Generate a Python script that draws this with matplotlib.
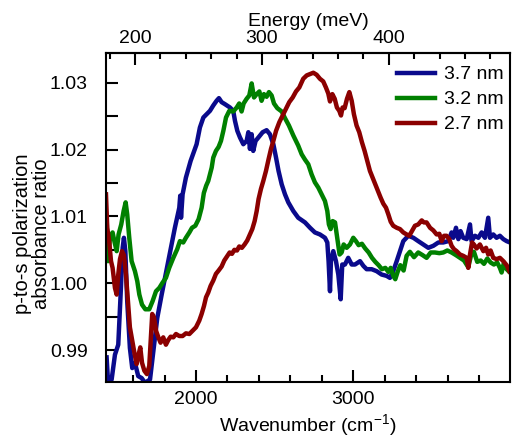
import matplotlib
matplotlib.use("Agg")
import matplotlib.pyplot as plt
from matplotlib.ticker import MultipleLocator, FixedLocator

plt.rcParams["font.family"] = ["Liberation Sans", "DejaVu Sans"]
plt.rcParams["mathtext.fontset"] = "custom"
plt.rcParams["mathtext.rm"] = "Liberation Sans"

MEV_TO_WN = 8.0655
FS = 14

# 3.7 nm
wn_37 = [1432, 1443, 1464, 1485, 1506, 1521, 1534, 1542, 1551, 1563, 1580, 1595, 1612, 1633, 1655,
         1676, 1708, 1729, 1754, 1782, 1824, 1866, 1894, 1900, 1905, 1915, 1936, 1966, 2004, 2025,
         2047, 2068, 2089, 2110, 2131, 2146, 2163, 2184, 2216, 2237, 2248, 2263, 2280, 2301, 2322,
         2333, 2343, 2354, 2364, 2379, 2400, 2424, 2449, 2470, 2492, 2509, 2525, 2545, 2566, 2587,
         2619, 2650, 2693, 2725, 2756, 2788, 2820, 2835, 2843, 2852, 2858, 2873, 2890, 2905, 2920,
         2930, 2947, 2968, 2990, 3011, 3043, 3064, 3085, 3117, 3149, 3180, 3212, 3233, 3254, 3276,
         3297, 3318, 3350, 3382, 3413, 3445, 3477, 3509, 3541, 3572, 3604, 3625, 3636, 3653, 3668,
         3682, 3699, 3721, 3742, 3752, 3774, 3795, 3816, 3837, 3858, 3869, 3890, 3911, 3932, 3954,
         3975, 3996]
r_37 = [0.9889, 0.9845, 0.9856, 0.9893, 0.9908, 0.9983, 1.0053, 1.0068, 1.0048, 0.9973, 0.9903,
        0.9873, 0.9881, 0.9861, 0.9858, 0.9851, 0.9856, 0.9898, 0.9948, 0.9983, 1.0033, 1.0083,
        1.0113, 1.0131, 1.0098, 1.0133, 1.0158, 1.0183, 1.0208, 1.0233, 1.0248, 1.0253, 1.0258,
        1.0266, 1.0273, 1.0277, 1.0271, 1.0268, 1.0263, 1.0258, 1.0243, 1.0228, 1.0218, 1.0208,
        1.0213, 1.0226, 1.0201, 1.0223, 1.0198, 1.0213, 1.0219, 1.0226, 1.0229, 1.0223, 1.0208,
        1.0188, 1.0168, 1.0148, 1.0133, 1.0121, 1.0108, 1.0098, 1.0091, 1.0083, 1.0076, 1.0073,
        1.0068, 1.0061, 1.0033, 0.9988, 1.0033, 1.0048, 1.0033, 1.0013, 0.9976, 1.0028, 1.0028,
        1.0038, 1.0028, 1.0028, 1.0033, 1.0026, 1.0021, 1.0021, 1.0018, 1.0013, 1.0011, 1.0008,
        1.0018, 1.0033, 1.0048, 1.0063, 1.0071, 1.0068, 1.0063, 1.0058, 1.0053, 1.0056, 1.0061,
        1.0061, 1.0063, 1.0076, 1.0068, 1.0083, 1.0066, 1.0078, 1.0068, 1.0066, 1.0088, 1.0063,
        1.0071, 1.0068, 1.0076, 1.0068, 1.0098, 1.0068, 1.0073, 1.0068, 1.0071, 1.0066, 1.0063,
        1.0061]

# 3.2 nm
wn_32 = [1432, 1441, 1453, 1470, 1483, 1496, 1508, 1525, 1540, 1553, 1563, 1576, 1591, 1612, 1627,
         1640, 1657, 1678, 1703, 1724, 1746, 1767, 1788, 1809, 1830, 1856, 1881, 1898, 1919, 1936,
         1958, 1975, 1996, 2017, 2036, 2050, 2065, 2078, 2100, 2110, 2127, 2144, 2159, 2174, 2191,
         2212, 2237, 2259, 2275, 2290, 2303, 2322, 2339, 2354, 2369, 2386, 2403, 2417, 2432, 2449,
         2464, 2481, 2496, 2517, 2545, 2566, 2591, 2619, 2650, 2672, 2693, 2714, 2735, 2756, 2778,
         2799, 2820, 2835, 2845, 2856, 2869, 2884, 2898, 2913, 2926, 2939, 2958, 2979, 3000, 3017,
         3034, 3055, 3076, 3098, 3119, 3140, 3161, 3182, 3204, 3223, 3238, 3254, 3267, 3282, 3299,
         3320, 3339, 3360, 3386, 3413, 3441, 3466, 3492, 3519, 3547, 3572, 3598, 3625, 3653, 3678,
         3704, 3731, 3748, 3767, 3788, 3810, 3831, 3852, 3873, 3894, 3915, 3932, 3943, 3958, 3975,
         3996]
r_32 = [1.0098, 1.0033, 1.0068, 1.0076, 1.0061, 1.0048, 1.0073, 1.0088, 1.0108, 1.0121, 1.0103,
        1.0068, 1.0033, 1.0018, 1.0003, 0.9983, 0.9968, 0.9961, 0.9961, 0.9973, 0.9988, 0.9993,
        1.0001, 1.0008, 1.0023, 1.0038, 1.0051, 1.0063, 1.0061, 1.0068, 1.0076, 1.0083, 1.0086,
        1.0096, 1.0113, 1.0135, 1.0146, 1.0153, 1.0173, 1.0188, 1.0198, 1.0204, 1.0213, 1.0228,
        1.0248, 1.0258, 1.0257, 1.0263, 1.0269, 1.0257, 1.0269, 1.0276, 1.0281, 1.0299, 1.0278,
        1.0283, 1.0287, 1.0273, 1.0283, 1.0279, 1.0286, 1.0281, 1.0269, 1.0262, 1.0257, 1.0247,
        1.0236, 1.0221, 1.0206, 1.0193, 1.0185, 1.0178, 1.0163, 1.0151, 1.0143, 1.0133, 1.0123,
        1.0108, 1.0088, 1.0081, 1.0093, 1.0091, 1.0068, 1.0043, 1.0046, 1.0058, 1.0053, 1.0058,
        1.0068, 1.0063, 1.0057, 1.0059, 1.0052, 1.0046, 1.0038, 1.0032, 1.0027, 1.0021, 1.0023,
        1.0017, 1.0023, 1.0011, 1.0006, 1.0017, 1.0027, 1.0019, 1.0041, 1.0047, 1.0039, 1.0046,
        1.0042, 1.0038, 1.0046, 1.0046, 1.0045, 1.0046, 1.0049, 1.0046, 1.0042, 1.0038, 1.0034,
        1.0024, 1.0041, 1.0047, 1.0032, 1.0034, 1.0029, 1.0037, 1.0031, 1.0028, 1.0031, 1.0023,
        1.0016, 1.0031, 1.0021, 1.0016]

# 2.7 nm
wn_27 = [1428, 1436, 1449, 1460, 1470, 1485, 1496, 1506, 1517, 1530, 1542, 1555, 1568, 1580, 1595,
         1610, 1623, 1636, 1646, 1657, 1672, 1688, 1703, 1712, 1722, 1733, 1746, 1761, 1775, 1792,
         1809, 1824, 1839, 1856, 1873, 1894, 1915, 1936, 1958, 1979, 2000, 2021, 2036, 2051, 2064,
         2078, 2093, 2110, 2127, 2144, 2163, 2180, 2197, 2214, 2229, 2244, 2261, 2275, 2292, 2309,
         2326, 2343, 2358, 2373, 2386, 2398, 2413, 2428, 2445, 2462, 2477, 2492, 2509, 2530, 2551,
         2572, 2593, 2615, 2636, 2657, 2682, 2704, 2725, 2746, 2767, 2788, 2809, 2826, 2841, 2852,
         2867, 2882, 2896, 2911, 2922, 2932, 2945, 2960, 2975, 2990, 3004, 3021, 3038, 3055, 3072,
         3089, 3106, 3123, 3140, 3157, 3174, 3191, 3208, 3223, 3238, 3254, 3276, 3297, 3318, 3339,
         3356, 3373, 3392, 3413, 3435, 3449, 3466, 3488, 3509, 3530, 3547, 3562, 3577, 3593, 3610,
         3625, 3640, 3657, 3678, 3699, 3721, 3731, 3742, 3755, 3767, 3784, 3805, 3827, 3844, 3858,
         3873, 3890, 3911, 3932, 3954, 3975, 3992]
r_27 = [1.0133, 1.0083, 1.0061, 1.0033, 1.0023, 0.9993, 0.9983, 1.0013, 1.0036, 1.0048, 1.0042,
        1.0013, 0.9973, 0.9934, 0.9914, 0.9894, 0.9879, 0.9894, 0.9904, 0.9881, 0.9869, 0.9864,
        0.9876, 0.9914, 0.9954, 0.9949, 0.9929, 0.9919, 0.9911, 0.9919, 0.9908, 0.9915, 0.9920,
        0.9919, 0.9924, 0.9921, 0.9921, 0.9925, 0.9924, 0.9929, 0.9934, 0.9944, 0.9954, 0.9966,
        0.9979, 0.9986, 0.9996, 1.0004, 1.0014, 1.0019, 1.0025, 1.0034, 1.0040, 1.0046, 1.0044,
        1.0050, 1.0049, 1.0055, 1.0053, 1.0058, 1.0064, 1.0073, 1.0081, 1.0093, 1.0108, 1.0126,
        1.0141, 1.0153, 1.0168, 1.0186, 1.0201, 1.0213, 1.0228, 1.0241, 1.0251, 1.0261, 1.0271,
        1.0278, 1.0287, 1.0293, 1.0306, 1.0311, 1.0313, 1.0315, 1.0312, 1.0306, 1.0302, 1.0293,
        1.0284, 1.0272, 1.0283, 1.0276, 1.0263, 1.0258, 1.0251, 1.0263, 1.0262, 1.0276, 1.0286,
        1.0273, 1.0253, 1.0236, 1.0226, 1.0211, 1.0198, 1.0183, 1.0168, 1.0158, 1.0148, 1.0138,
        1.0128, 1.0119, 1.0113, 1.0103, 1.0092, 1.0086, 1.0083, 1.0081, 1.0076, 1.0073, 1.0071,
        1.0078, 1.0086, 1.0088, 1.0094, 1.0091, 1.0091, 1.0083, 1.0079, 1.0073, 1.0074, 1.0063,
        1.0071, 1.0071, 1.0066, 1.0056, 1.0051, 1.0048, 1.0043, 1.0041, 1.0038, 1.0023, 1.0043,
        1.0061, 1.0058, 1.0052, 1.0058, 1.0048, 1.0053, 1.0043, 1.0049, 1.0038, 1.0036, 1.0038,
        1.0033, 1.0027, 1.0018]

series = [
    (wn_37, r_37, "3.7 nm", "#0a0a8c"),
    (wn_32, r_32, "3.2 nm", "#008000"),
    (wn_27, r_27, "2.7 nm", "#8b0000"),
]

fig = plt.figure(figsize=(5.12, 4.45), dpi=100)
ax = fig.add_axes([0.207, 0.1422, 0.789, 0.7394])

for wn, r, label, color in series:
    ax.plot(wn, r, color=color, lw=3.2, label=label, solid_joinstyle="round")

ax.set_xlim(1428, 3996)
ax.set_ylim(0.98526, 1.0345)

for side in ["left", "right", "top", "bottom"]:
    ax.spines[side].set_linewidth(1.5)

ax.xaxis.set_major_locator(MultipleLocator(1000))
ax.xaxis.set_minor_locator(MultipleLocator(200))
ax.yaxis.set_major_locator(MultipleLocator(0.01))
ax.yaxis.set_minor_locator(MultipleLocator(0.005))
ax.yaxis.set_major_formatter(plt.FormatStrFormatter("%.2f"))

ax.tick_params(axis="x", which="both", direction="in", top=False, labelsize=FS, width=1.5, pad=7)
ax.tick_params(axis="x", which="major", length=8.5)
ax.tick_params(axis="x", which="minor", length=5)
ax.tick_params(axis="y", which="both", direction="in", right=False, labelsize=FS, width=1.5,
               length=8.5, pad=13)

ax.set_xlabel(r"Wavenumber (cm$^{\mathregular{-1}}$)", fontsize=FS, labelpad=3)
ax.set_ylabel("p-to-s polarization\nabsorbance ratio", fontsize=FS + 0.5, linespacing=1.0)
ax.yaxis.set_label_coords(-0.135, 0.45)

# energy axis on top
top = ax.secondary_xaxis("top", functions=(lambda w: w / MEV_TO_WN, lambda e: e * MEV_TO_WN))
top.xaxis.set_major_locator(FixedLocator([200, 300, 400]))
top.xaxis.set_minor_locator(FixedLocator([180, 220, 240, 260, 280, 320, 340, 360, 380,
                                          420, 440, 460, 480]))
top.tick_params(axis="x", which="both", direction="in", labelsize=FS, width=1.5, pad=4)
top.tick_params(axis="x", which="major", length=8.5)
top.tick_params(axis="x", which="minor", length=4.5)
top.spines["top"].set_linewidth(1.5)
top.set_xlabel("Energy (meV)", fontsize=FS, labelpad=3)

ax.legend(loc="upper left", bbox_to_anchor=(0.7196, 0.96), frameon=False, fontsize=FS,
          handlelength=1.95, handletextpad=0.5, labelspacing=0.38, borderpad=0, borderaxespad=0)

fig.savefig("out.png", dpi=100)
